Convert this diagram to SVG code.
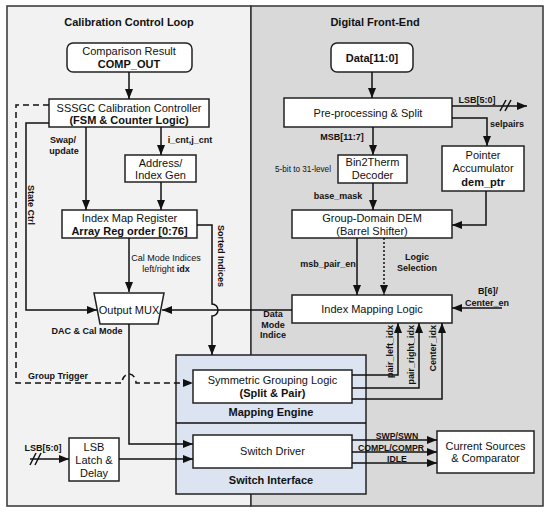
<svg xmlns="http://www.w3.org/2000/svg" width="550" height="515" viewBox="0 0 550 515">
<defs>
<marker id="ah" markerWidth="10" markerHeight="8" refX="10" refY="4" orient="auto" markerUnits="userSpaceOnUse"><path d="M0,0 L10,4 L0,8 z" fill="#111"/></marker>
<style>
.pl{fill:#f2f2f2;stroke:#333;stroke-width:1.5}
.pr{fill:#d9d9d9;stroke:#333;stroke-width:1.5}
.bx{fill:#fff;stroke:#222;stroke-width:1.5}
.bl{fill:#dce4f2;stroke:#222;stroke-width:1.5}
.t{font-family:"Liberation Sans",Arial,sans-serif;font-size:11px;fill:#111;text-anchor:middle}
.b{font-weight:bold}
.s{font-family:"Liberation Sans",Arial,sans-serif;font-size:9px;font-weight:bold;fill:#111;text-anchor:middle}
.n{font-family:"Liberation Sans",Arial,sans-serif;font-size:9px;fill:#111;text-anchor:middle}
.ln{stroke:#111;stroke-width:1.5;fill:none}
.ar{marker-end:url(#ah)}
.da{stroke-dasharray:6,4}
.dt{stroke-dasharray:2,2}
</style>
</defs>
<g id="panels">
<rect class="pl" x="7" y="6" width="244" height="500"/>
<rect class="pr" x="251" y="6" width="292" height="500"/>
<text class="t b" x="129" y="26">Calibration Control Loop</text>
<text class="t b" x="375" y="26">Digital Front-End</text>
</g>
<g id="engine">
<rect class="bl" x="176" y="355" width="190" height="139"/>
<path class="ln" d="M176,423 H366"/>
<text class="t b" x="271" y="416">Mapping Engine</text>
<text class="t b" x="271" y="484">Switch Interface</text>
</g>
<g id="comp_out">
<rect class="bx" x="67" y="43" width="125" height="29" rx="6"/>
<text class="t" x="129" y="55">Comparison Result</text>
<text class="t b" x="129" y="68">COMP_OUT</text>
</g>
<g id="sssgc">
<rect class="bx" x="49" y="99" width="160" height="28"/>
<text class="t" x="129" y="112">SSSGC Calibration Controller</text>
<text class="t b" x="129" y="124">(FSM &amp; Counter Logic)</text>
</g>
<g id="addr_gen">
<rect class="bx" x="125" y="155" width="71" height="27"/>
<text class="t" x="160.5" y="167">Address/</text>
<text class="t" x="160.5" y="179">Index Gen</text>
</g>
<g id="index_map">
<rect class="bx" x="62" y="210" width="135" height="28"/>
<text class="t" x="129.5" y="222">Index Map Register</text>
<text class="t b" x="129.5" y="235">Array Reg order [0:76]</text>
</g>
<g id="output_mux">
<path class="bx" d="M94,293 H164 L158,324 H100 z"/>
<text class="t" x="129" y="314">Output MUX</text>
</g>
<g id="lsb_latch">
<rect class="bx" x="69" y="438" width="50" height="43"/>
<text class="t" x="94" y="451">LSB</text>
<text class="t" x="94" y="464">Latch &amp;</text>
<text class="t" x="94" y="477">Delay</text>
</g>
<g id="sym_group">
<rect class="bx" x="193" y="370" width="159" height="33"/>
<text class="t" x="272.5" y="384">Symmetric Grouping Logic</text>
<text class="t b" x="272.5" y="397">(Split &amp; Pair)</text>
</g>
<g id="switch_driver">
<rect class="bx" x="193" y="435" width="159" height="33"/>
<text class="t" x="272.5" y="455">Switch Driver</text>
</g>
<g id="current_src">
<rect class="bx" x="437" y="431" width="97" height="42"/>
<text class="t" x="485.5" y="450">Current Sources</text>
<text class="t" x="485.5" y="462">&amp; Comparator</text>
</g>
<g id="data_in">
<rect class="bx" x="331" y="43" width="82" height="29" rx="6"/>
<text class="t b" x="372" y="62">Data[11:0]</text>
</g>
<g id="preproc">
<rect class="bx" x="284" y="98" width="168" height="29"/>
<text class="t" x="368" y="117">Pre-processing &amp; Split</text>
</g>
<g id="bin2therm">
<rect class="bx" x="338" y="155" width="69" height="28"/>
<text class="t" x="372.5" y="166">Bin2Therm</text>
<text class="t" x="372.5" y="179">Decoder</text>
</g>
<g id="pointer_acc">
<rect class="bx" x="442" y="146" width="82" height="45"/>
<text class="t" x="483" y="159">Pointer</text>
<text class="t" x="483" y="172">Accumulator</text>
<text class="t b" x="483" y="186">dem_ptr</text>
</g>
<g id="dem">
<rect class="bx" x="292" y="210" width="160" height="28"/>
<text class="t" x="372" y="222">Group-Domain DEM</text>
<text class="t" x="372" y="235">(Barrel Shifter)</text>
</g>
<g id="index_mapping">
<rect class="bx" x="292" y="295" width="160" height="28"/>
<text class="t" x="372" y="313">Index Mapping Logic</text>
</g>
<g id="connectors">
<path class="ln ar" d="M129,72 V99"/>
<path class="ln ar da" d="M49,105 H16 V383 H122 A7,9 0 0 1 136,383 H193"/>
<path class="ln ar" d="M49,123 H26 V310 H97"/>
<path class="ln ar" d="M86,127 V210"/>
<path class="ln ar" d="M161,127 V155"/>
<path class="ln ar" d="M161,182 V210"/>
<path class="ln ar" d="M129,238 V292"/>
<path class="ln ar" d="M197,225 H212 V304 A6,6 0 0 1 212,316 V355"/>
<path class="ln ar" d="M292,310 H162"/>
<path class="ln ar" d="M129,324 V444 H193"/>
<path class="ln ar" d="M30,459 H69"/>
<path class="ln" d="M30,465 L36,453 M35,465 L41,453"/>
<path class="ln ar" d="M119,459 H193"/>
<path class="ln ar" d="M372,72 V98"/>
<path class="ln ar" d="M452,106 H527"/>
<path class="ln" d="M500,111 L506,100 M505,111 L511,100"/>
<path class="ln ar" d="M452,118 H487 V146"/>
<path class="ln ar" d="M373,127 V155"/>
<path class="ln ar" d="M373,183 V210"/>
<path class="ln ar" d="M486,191 V225 H452"/>
<path class="ln ar" d="M357,238 V295"/>
<path class="ln ar dt" d="M384,238 V295"/>
<path class="ln ar" d="M502,308 H452"/>
<path class="ln ar" d="M352,375 H398 V323"/>
<path class="ln ar" d="M352,388 H419 V323"/>
<path class="ln ar" d="M352,399 H442 V323"/>
<path class="ln ar" d="M352,440 H437"/>
<path class="ln ar" d="M352,452 H437"/>
<path class="ln ar" d="M352,463 H437"/>
<text class="s" x="63" y="143">Swap/</text>
<text class="s" x="64" y="154">update</text>
<text class="s" x="190" y="143">i_cnt,j_cnt</text>
<text class="s" transform="translate(28,205) rotate(90)" x="0" y="0">State Ctrl</text>
<text class="s" transform="translate(218,256) rotate(90)" x="0" y="0">Sorted Indices</text>
<text class="n" x="166" y="261">Cal Mode Indices</text>
<text class="n" x="166" y="272">left/right <tspan font-weight="bold">idx</tspan></text>
<text class="s" x="273" y="317">Data</text>
<text class="s" x="273" y="328">Mode</text>
<text class="s" x="273" y="338">Indice</text>
<text class="s" x="87" y="334">DAC &amp; Cal Mode</text>
<text class="s" x="58" y="379">Group Trigger</text>
<text class="s" x="43" y="451">LSB[5:0]</text>
<text class="s" x="477" y="103">LSB[5:0]</text>
<text class="s" x="507" y="127">selpairs</text>
<text class="s" x="342" y="140">MSB[11:7]</text>
<text class="n" x="303" y="172" style="font-size:8.2px">5-bit to 31-level</text>
<text class="s" x="338" y="199">base_mask</text>
<text class="s" x="328" y="267">msb_pair_en</text>
<text class="s" x="417" y="260">Logic</text>
<text class="s" x="417" y="271">Selection</text>
<text class="s" x="488" y="294">B[6]/</text>
<text class="s" x="487" y="306">Center_en</text>
<text class="s" transform="translate(393,325) rotate(-90)" x="0" y="0" style="text-anchor:end">pair_left_idx</text>
<text class="s" transform="translate(414,325) rotate(-90)" x="0" y="0" style="text-anchor:end">pair_right_idx</text>
<text class="s" transform="translate(436,325) rotate(-90)" x="0" y="0" style="text-anchor:end">Center_idx</text>
<text class="s" x="397" y="439" style="font-size:8.7px">SWP/SWN</text>
<text class="s" x="391" y="451" style="font-size:8.7px">COMPL/COMPR</text>
<text class="s" x="397" y="462" style="font-size:8.7px">IDLE</text>
</g>
</svg>
